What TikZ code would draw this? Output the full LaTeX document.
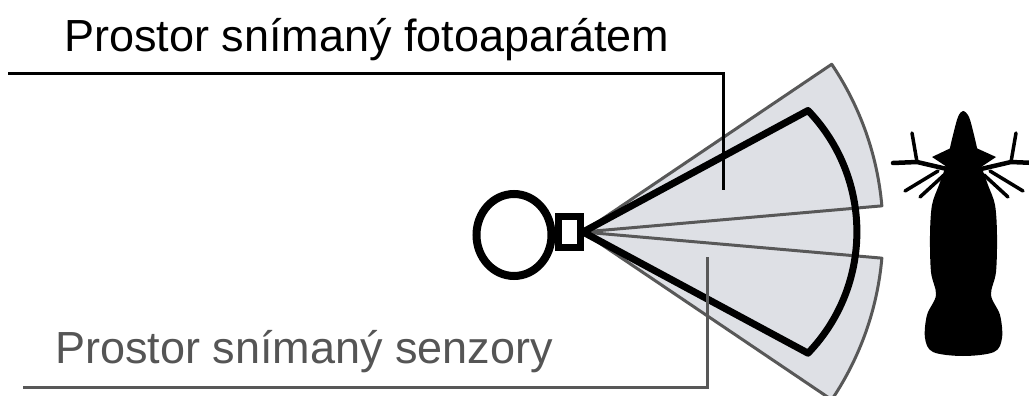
\documentclass[tikz,border=0pt]{standalone}
\usepackage{fontspec}
\setmainfont{Liberation Sans}
\usetikzlibrary{shapes.geometric}
\definecolor{fieldfill}{RGB}{222,224,229}
\definecolor{sensorgray}{RGB}{88,88,88}
\definecolor{sensortext}{RGB}{85,85,85}
\begin{document}
\begin{tikzpicture}[x=1pt,y=1pt,
  caption/.style={inner sep=0pt, anchor=base west, font=\fontsize{45}{54}\selectfont},
  leader/.style={line width=3pt},
  sensorfield/.style={fill=fieldfill, draw=sensorgray, line width=3pt, line join=round},
  camerafield/.style={draw=black, line width=7pt, line join=round},
  antler/.style={line width=4.5pt, line cap=round, line join=round},
  tine/.style={line width=3.5pt, line cap=round},
]
\useasboundingbox (0,0) rectangle (1029,-396);
\fill[white] (0,0) rectangle (1029,-396);
\begin{scope}
\clip (0,0) rectangle (1029,-396);

% apex of the fields at the lens
\coordinate (apex) at (583,-232);

% camera field: filled first, outlined after the sensor fields
\fill[fieldfill] (apex) -- (808,-110.5) arc[start angle=43.9, end angle=-43.9, radius=175] -- cycle;

% two sensor fields
\path[sensorfield] (apex) -- ++(34:300) arc[start angle=34, end angle=5, radius=300] -- cycle;
\path[sensorfield] (apex) -- ++(-5:300) arc[start angle=-5, end angle=-34, radius=300] -- cycle;

% camera field outline
\path[camerafield] (apex) -- (808,-110.5) arc[start angle=43.9, end angle=-43.9, radius=175] -- cycle;

% captions and leaders
\node[caption] (camlabel) at (64,-52) {Prostor snímaný fotoaparátem};
\node[caption, text=sensortext] (senslabel) at (55,-363) {Prostor snímaný senzory};

\coordinate (camstart) at (8,-74);
\coordinate (camend) at (723,-190);
\coordinate (sensstart) at (23,-387);
\coordinate (sensend) at (707,-257);
\draw[leader] (camstart) -| (camend);
\draw[leader, draw=sensorgray] (sensstart) -| (sensend);

% camera: body and lens
\node[ellipse, draw, line width=8pt, minimum width=75pt, minimum height=82pt, inner sep=0pt, fill=white] (body) at (514,-235) {};
\node[rectangle, draw, line width=7pt, minimum width=22pt, minimum height=31pt, inner sep=0pt, fill=white] (lens) at (569,-231.5) {};

% deer seen from the front
\fill[black] plot[smooth cycle, tension=0.55] coordinates {
  (963,-111) (969,-117) (974,-135) (978,-152) (982,-168) (988,-185)
  (995,-205) (997,-235) (996,-272) (991,-295) (1000,-315) (1002,-338)
  (994,-352) (963,-356) (933,-352) (925,-338) (927,-315) (936,-295)
  (931,-272) (930,-235) (932,-205) (939,-185) (945,-168) (949,-152)
  (953,-135) (958,-117)};
\fill[black] (953,-147) -- (932,-157) -- (947,-167) -- cycle;
\fill[black] (974,-147) -- (996,-157) -- (981,-167) -- cycle;
% antlers
\draw[antler] (947,-169) -- (917,-162) -- (893,-163);
\draw[tine] (917,-162) -- (912,-133);
\draw[tine] (938,-171) -- (905,-191);
\draw[tine] (944,-175) -- (920,-197);
\draw[antler] (981,-169) -- (1011,-162) -- (1035,-163);
\draw[tine] (1011,-162) -- (1016,-133);
\draw[tine] (990,-171) -- (1023,-191);
\draw[tine] (984,-175) -- (1008,-197);
\end{scope}
\end{tikzpicture}
\end{document}
